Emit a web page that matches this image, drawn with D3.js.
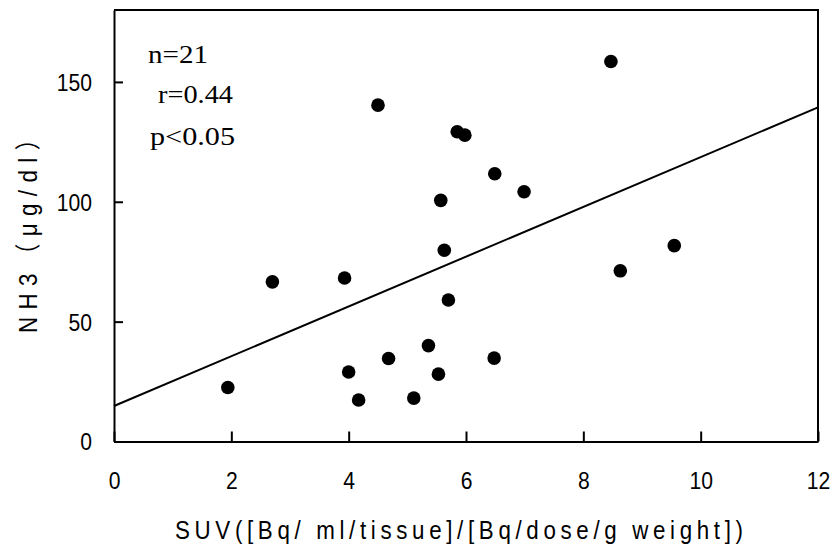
<!DOCTYPE html>
<html>
<head>
<meta charset="utf-8">
<script src="https://cdn.jsdelivr.net/npm/d3@7"></script>
<style>
  body { margin: 0; background: #fff; }
  svg { display: block; }
</style>
</head>
<body>
<div class="d3-content"></div>
<script>
// data
const suv = [1.94, 2.70, 3.93, 4.00, 4.17, 4.50, 4.68, 5.11, 5.36, 5.53, 5.57,
             5.63, 5.70, 5.85, 5.98, 6.48, 6.49, 6.99, 8.47, 8.63, 9.55];
const nh3 = [22.5, 66.6, 68.2, 29.0, 17.3, 140.3, 34.6, 18.1, 40.0, 28.1, 100.6,
             79.8, 59.0, 129.2, 127.8, 34.8, 111.7, 104.2, 158.5, 71.2, 81.7];
const fitX = [0, 12];
const fitY = [14.8, 139.4];
const xTicks = [0, 2, 4, 6, 8, 10, 12];
const yTicks = [0, 50, 100, 150];
const statLines = ['n=21', 'r=0.44', 'p<0.05'];

// dimensions
const width = 836;
const height = 550;
const margin = { top: 10, right: 18, bottom: 108.5, left: 114 };
const innerWidth = width - margin.left - margin.right;
const innerHeight = height - margin.top - margin.bottom;

const sansFont = '"Liberation Sans", Arial, "Noto Sans CJK JP", sans-serif';
const serifFont = '"Liberation Serif", "Times New Roman", serif';
const squeeze = 0.88;   // the original glyphs are narrow

const points = suv.map((x, i) => ({ x, y: nh3[i] }));

const svg = d3.select('.d3-content')
  .append('svg')
    .attr('width', width)
    .attr('height', height);

const innerChart = svg.append('g')
  .attr('transform', `translate(${margin.left}, ${margin.top})`);

// scales
const xScale = d3.scaleLinear().domain([0, 12]).range([0, innerWidth]);
const yScale = d3.scaleLinear().domain([0, 180]).range([innerHeight, 0]);

// frame (top and right)
innerChart.append('path')
  .attr('d', `M0,0H${innerWidth}V${innerHeight}`)
  .attr('fill', 'none')
  .attr('stroke', '#000')
  .attr('stroke-width', 2);

// axes, ticks pointing inward
const bottomAxis = d3.axisBottom(xScale)
  .tickValues(xTicks)
  .tickSizeInner(-10)
  .tickSizeOuter(0)
  .tickPadding(30);
const xAxisG = innerChart.append('g')
  .attr('transform', `translate(0, ${innerHeight})`)
  .call(bottomAxis);

const leftAxis = d3.axisLeft(yScale)
  .tickValues(yTicks)
  .tickSizeInner(-9)
  .tickSizeOuter(0)
  .tickPadding(22);
const yAxisG = innerChart.append('g').call(leftAxis);

[xAxisG, yAxisG].forEach(g => {
  g.select('.domain').attr('stroke', '#000').attr('stroke-width', 2);
  g.selectAll('.tick line').attr('stroke', '#000').attr('stroke-width', 2);
  g.selectAll('.tick text')
    .attr('fill', '#000')
    .style('font-family', sansFont)
    .style('font-size', '24px');
});
xAxisG.selectAll('.tick text')
  .attr('transform', `scale(${squeeze}, 1)`);
yAxisG.selectAll('.tick text')
  .attr('x', 0)
  .attr('dy', '0.35em')
  .attr('transform', `translate(-22, 0) scale(${squeeze}, 1)`);

// regression line
innerChart.append('line')
  .attr('x1', xScale(fitX[0]))
  .attr('y1', yScale(fitY[0]))
  .attr('x2', xScale(fitX[1]))
  .attr('y2', yScale(fitY[1]))
  .attr('stroke', '#000')
  .attr('stroke-width', 2);

// points
innerChart.selectAll('circle')
  .data(points)
  .join('circle')
    .attr('cx', d => xScale(d.x))
    .attr('cy', d => yScale(d.y))
    .attr('r', 6.8)
    .attr('fill', '#000');

// statistics
const statX = [148, 158, 150];
const statY = [63, 103, 145];
const statLen = [60, 75, 85];
svg.selectAll('text.stat')
  .data(statLines)
  .join('text')
    .attr('class', 'stat')
    .attr('x', (d, i) => statX[i])
    .attr('y', (d, i) => statY[i])
    .attr('textLength', (d, i) => statLen[i])
    .attr('lengthAdjust', 'spacingAndGlyphs')
    .style('font-family', serifFont)
    .style('font-size', '25px')
    .text(d => d);

// axis titles (narrow glyphs, wide spacing)
const titleScale = 0.86;
svg.append('text')
  .text('SUV([Bq/ ml/tissue]/[Bq/dose/g weight])')
  .attr('transform', `translate(175, 539) scale(${titleScale}, 1)`)
  .attr('textLength', 568 / titleScale)
  .attr('lengthAdjust', 'spacing')
  .style('font-family', sansFont)
  .style('font-size', '26px');

svg.append('text')
  .text('NH3（μg/dl）')
  .attr('transform', `translate(37, 333) rotate(-90) scale(${titleScale}, 1)`)
  .attr('textLength', 205 / titleScale)
  .attr('lengthAdjust', 'spacing')
  .style('font-family', sansFont)
  .style('font-size', '26px');
</script>
</body>
</html>
